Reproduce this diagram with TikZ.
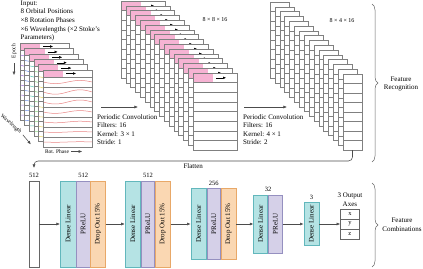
\documentclass[tikz,border=0pt]{standalone}
\usepackage{fontspec}
\setmainfont{Liberation Serif}
\usetikzlibrary{arrows.meta,calc,decorations.pathreplacing,positioning}
\definecolor{hdrpink}{HTML}{F6B3D3}
\definecolor{wvpurple}{HTML}{A070D8}
\definecolor{wvblue}{HTML}{6F93E6}
\definecolor{wvteal}{HTML}{55C8B4}
\definecolor{wvgreen}{HTML}{86D97E}
\definecolor{wvyellow}{HTML}{E6D45C}
\definecolor{wvred}{HTML}{E98585}
\definecolor{denseF}{HTML}{B5E3E4}
\definecolor{denseD}{HTML}{62B7BC}
\definecolor{preluF}{HTML}{D5D0E8}
\definecolor{preluD}{HTML}{9590C0}
\definecolor{dropF}{HTML}{FAD7B2}
\definecolor{dropD}{HTML}{E8A868}

\tikzset{
  frm/.style={draw=black!50, line width=0.4pt},
  rowln/.style={draw=black!50, line width=0.35pt},
  hdrarr/.style={-{Latex[length=3pt,width=2.6pt]}, black, line width=0.4pt},
  arr/.style={-{Latex[length=3.6pt,width=3pt]}, draw=black!70, line width=0.55pt},
  txt/.style={font=\fontsize{7}{8.6}\selectfont, inner sep=0pt, align=left},
  sml/.style={font=\fontsize{5.5}{6.5}\selectfont, inner sep=0pt},
  dimlbl/.style={font=\fontsize{6}{7}\selectfont, inner sep=0pt},
  num/.style={font=\fontsize{6.5}{7.5}\selectfont, inner sep=0pt},
  blk/.style={inner sep=0pt, line width=0.6pt, font=\fontsize{7}{8}\selectfont, minimum height=#1},
  dense/.style={draw=denseD, fill=denseF, minimum width=15.5pt},
  prelu/.style={draw=preluD, fill=preluF, minimum width=13.5pt},
  drop/.style={draw=dropD, fill=dropF, minimum width=15pt},
  cell/.style={draw=black!60, fill=white, inner sep=0pt, minimum width=19pt, minimum height=9.7pt, font=\fontsize{6.5}{7.5}\selectfont},
  brc/.style={decorate, decoration={brace, amplitude=6pt}, draw=black!60, line width=0.5pt}
}

% one input sheet: orbital rows with a light-curve per row
\newcommand{\inframe}[3]{%
  \begin{scope}[shift={(#1,#2)}]
    \fill[white] (0,0) rectangle (49,77);
    \fill[hdrpink] (0,0) rectangle (20,7);
    \foreach \ry in {7,17,...,67} \draw[rowln] (0,\ry) -- (49,\ry);
    \foreach \ry/\amp in {12/1.6,22/2.2,32/2,42/1.4,52/0.8,62/0.4,72/0.3}
      \draw[#3, line width=0.5pt] plot[smooth, domain=0:49, samples=12] (\x,{\ry+\amp*sin(\x*7.3)});
    \draw[hdrarr] (23,3.5) -- (33,3.5);
    \draw[frm] (0,0) rectangle (49,77);
  \end{scope}}
% one feature map of the first convolution
\newcommand{\cvframe}[2]{%
  \begin{scope}[shift={(#1,#2)}]
    \fill[white] (0,0) rectangle (44,77);
    \fill[hdrpink] (0,0) rectangle (20,9.625);
    \foreach \ry in {9.625,19.25,...,67.4} \draw[rowln] (0,\ry) -- (44,\ry);
    \draw[hdrarr] (23,4.8) -- (33,4.8);
    \draw[frm] (0,0) rectangle (44,77);
  \end{scope}}
% one feature map of the second convolution
\newcommand{\pcframe}[2]{%
  \begin{scope}[shift={(#1,#2)}]
    \fill[white] (0,0) rectangle (19,76);
    \foreach \ry in {9.5,19,...,66.6} \draw[rowln] (0,\ry) -- (19,\ry);
    \draw[frm] (0,0) rectangle (19,76);
  \end{scope}}

\begin{document}
\begin{tikzpicture}[x=1pt,y=-1pt,>=Latex]
  \useasboundingbox (0,0) rectangle (423,268);

  % input stack
  \node[txt, anchor=north west] (intxt) at (20.5,0.5) {Input:\\8 Orbital Positions\\×8 Rotation Phases\\×6 Wavelengths (×2 Stoke's\\Parameters)};
  \foreach \k/\wc in {0/wvpurple,1/wvblue,2/wvteal,3/wvgreen,4/wvyellow,5/wvred}
    \inframe{20+4.6*\k}{43+5.4*\k}{\wc};
  \node[sml, rotate=90] (epoch) at (14,51) {Epoch};
  \draw[arr] ($(epoch.west)+(0,5)$) -- ++(0,12);
  \node[sml, rotate=-42] (wavel) at (11,124) {Wavelength};
  \draw[arr] ([shift={(2,2)}]wavel.east) -- ++(8,9.5);
  \node[sml] (rotph) at (57,151.5) {Rot. Phase};
  \draw[arr] ([xshift=2pt]rotph.east) -- ++(11,0);

  % first periodic convolution
  \coordinate (c1s) at (101,107);
  \coordinate (c1e) at (138,107);
  \draw[arr] (c1s) -- (c1e);
  \node[txt, anchor=north west] (pc1) at (97,114) {Periodic Convolution\\Filters: 16\\Kernel: 3 × 1\\Stride: 1};
  \foreach \k in {0,...,15} \cvframe{121+4.8*\k}{1+4.8*\k};
  \node[dimlbl] (dim2) at (215,20) {8 × 8 × 16};

  % second periodic convolution
  \coordinate (c2s) at (244,107);
  \coordinate (c2e) at (287,107);
  \draw[arr] (c2s) -- (c2e);
  \node[txt, anchor=north west] (pc2) at (243,114) {Periodic Convolution\\Filters: 16\\Kernel: 4 × 1\\Stride: 2};
  \foreach \k in {0,...,15} \pcframe{270+4.87*\k}{2+4.8*\k};
  \node[dimlbl] (dim3) at (342,21) {8 × 4 × 16};

  \draw[brc] (372,4) -- (372,162);
  \node[txt, align=center] (featrec) at (401,84) {Feature\\Recognition};

  % flatten
  \coordinate (s3out) at (352.5,150);
  \coordinate (flatin) at (34,168);
  \draw[arr, rounded corners=4pt] (s3out) -- ++(0,11) -| node[txt, pos=0.25, below=2.5pt] (flatlbl) {Flatten} (flatin);

  % dense layers
  \node[draw=black!60, fill=white, line width=0.5pt, inner sep=0pt, minimum width=10pt, minimum height=86pt] (flat) at (34,224) {};
  \node[num, above=2.5pt of flat] (n0) {512};

  \node[blk=86pt, dense, anchor=west] (d1) at (60,224) {\rotatebox{90}{Dense Linear}};
  \node[blk=86pt, prelu, right=0pt of d1] (p1) {\rotatebox{90}{PReLU}};
  \node[blk=86pt, drop, right=0pt of p1] (o1) {\rotatebox{90}{Drop Out 15\%}};
  \node[num, above=2.5pt of p1] (n1) {512};

  \node[blk=86pt, dense, right=19pt of o1] (d2) {\rotatebox{90}{Dense Linear}};
  \node[blk=86pt, prelu, right=0pt of d2] (p2) {\rotatebox{90}{PReLU}};
  \node[blk=86pt, drop, right=0pt of p2] (o2) {\rotatebox{90}{Drop Out 15\%}};
  \node[num, above=2.5pt of p2] (n2) {512};

  \node[blk=71pt, dense, right=20pt of o2] (d3) {\rotatebox{90}{Dense Linear}};
  \node[blk=71pt, prelu, right=0pt of d3] (p3) {\rotatebox{90}{PReLU}};
  \node[blk=71pt, drop, right=0pt of p3] (o3) {\rotatebox{90}{Drop Out 15\%}};
  \node[num, above=2.5pt of p3] (n3) {256};

  \node[blk=58pt, dense, minimum width=14pt, right=17pt of o3] (d4) {\rotatebox{90}{Dense Linear}};
  \node[blk=58pt, prelu, minimum width=14pt, right=0pt of d4] (p4) {\rotatebox{90}{PReLU}};
  \node[num, above=2.5pt of d4.north east] (n4) {32};

  \node[blk=43pt, dense, minimum width=15pt, right=21pt of p4] (d5) {\rotatebox{90}{Dense Linear}};
  \node[num, above=2.5pt of d5] (n5) {3};

  \node[cell, right=21pt of d5] (ay) {y};
  \node[cell, above=0pt of ay] (ax) {x};
  \node[cell, below=0pt of ay] (az) {z};
  \node[txt, align=center, above=2pt of ax] (outlbl) {3 Output\\Axes};

  \draw[arr] (flat.east) -- (d1.west);
  \draw[arr] (o1.east) -- (d2.west);
  \draw[arr] (o2.east) -- (d3.west);
  \draw[arr] (o3.east) -- (d4.west);
  \draw[arr] (p4.east) -- (d5.west);
  \draw[arr] (d5.east) -- (ay.west);

  \draw[brc] (372,183) -- (372,267);
  \node[txt, align=center] (featcomb) at (402,225) {Feature\\Combinations};
\end{tikzpicture}
\end{document}
